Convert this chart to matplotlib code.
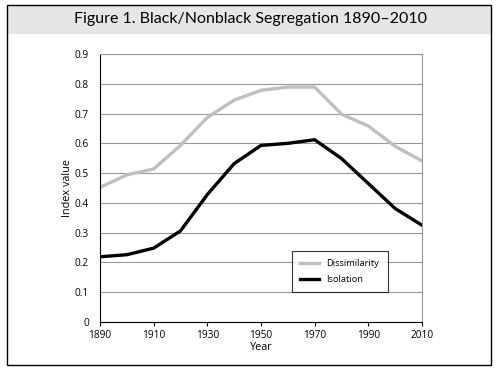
import matplotlib
matplotlib.use("Agg")
import matplotlib.pyplot as plt
from matplotlib.patches import Rectangle

years = [1890, 1900, 1910, 1920, 1930, 1940, 1950, 1960, 1970, 1980, 1990, 2000, 2010]
dissimilarity = [0.452, 0.494, 0.514, 0.593, 0.687, 0.745, 0.778, 0.789, 0.789, 0.698, 0.658, 0.590, 0.541]
isolation = [0.219, 0.226, 0.248, 0.306, 0.428, 0.532, 0.593, 0.600, 0.612, 0.549, 0.465, 0.381, 0.325]
xticks = [1890, 1910, 1930, 1950, 1970, 1990, 2010]
yticks = [0, 0.1, 0.2, 0.3, 0.4, 0.5, 0.6, 0.7, 0.8, 0.9]
title = "Figure 1. Black/Nonblack Segregation 1890\u20132010"

W, H = 500, 373
fig = plt.figure(figsize=(W/100, H/100), dpi=100)
plt.rcParams['font.family'] = ['Open Sans', 'DejaVu Sans']

# frame and title band
fig.patches.append(Rectangle((7/W, 1 - 34/H), (491-7)/W, (34-5)/H, transform=fig.transFigure,
                             facecolor='#e6e6e6', edgecolor='none', zorder=0))
fig.patches.append(Rectangle((7/W, 1 - 365/H), (491-7)/W, (365-5)/H, transform=fig.transFigure,
                             facecolor='none', edgecolor='black', linewidth=1.0, zorder=5))
fig.text(250/W, 1 - 19/H, title, ha='center', va='center', fontsize=11.5, family=['Lato', 'DejaVu Sans'])

ax = fig.add_axes([100/W, 1 - 322/H, (422-100)/W, (322-54)/H])
ax.plot(years, dissimilarity, color='#bfbfbf', linewidth=2.4, label='Dissimilarity', solid_joinstyle='miter')
ax.plot(years, isolation, color='black', linewidth=2.4, label='Isolation', solid_joinstyle='miter')
ax.set_xlim(1890, 2010)
ax.set_ylim(0, 0.9)
ax.set_xticks(xticks)
ax.set_xticklabels([str(x) for x in xticks])
ax.set_yticks(yticks)
ax.set_yticklabels(['0' if v == 0 else f'{v:.1f}' for v in yticks])
ax.tick_params(axis='both', labelsize=7.3, length=3, width=0.8, colors='black')
ax.tick_params(axis='x', pad=2.5)
ax.tick_params(axis='y', length=0, pad=8)
ax.grid(axis='y', color='#999999', linewidth=0.8)
ax.set_axisbelow(True)
for s in ['top', 'right']:
    ax.spines[s].set_color('#999999')
    ax.spines[s].set_linewidth(0.8)
for s in ['left', 'bottom']:
    ax.spines[s].set_color('black')
    ax.spines[s].set_linewidth(0.8)
ax.set_xlabel('Year', fontsize=7.8, labelpad=1)
ax.set_ylabel('Index value', fontsize=7.8, labelpad=1)
leg = ax.legend(loc='upper left', bbox_to_anchor=((292-100)/322, (322-251)/268), fontsize=6.7,
                frameon=True, fancybox=False, edgecolor='black', handlelength=2.0,
                borderpad=0.9, labelspacing=0.7, borderaxespad=0)
leg.get_frame().set_linewidth(0.8)
fig.savefig('out.png', dpi=100)
